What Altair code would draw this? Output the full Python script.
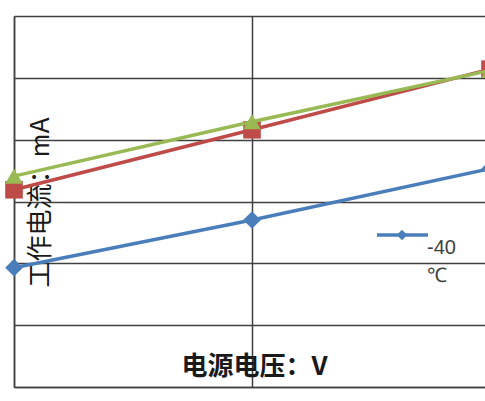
import altair as alt
import pandas as pd

# Supply voltage (V) and operating current (mA) for three temperatures
voltage = [4.5, 5.0, 5.5]
series_names = ["-40℃", "25℃", "85℃"]
current_m40 = [19.3, 27.0, 35.3]
current_25 = [31.9, 41.6, 51.4]
current_85 = [34.1, 42.9, 51.2]
series_values = [current_m40, current_25, current_85]

colors = ["#4A7EBB", "#BE4B48", "#98B954"]
shapes = ["diamond", "square", "triangle-up"]
y_ticks = [0, 10, 20, 30, 40, 50, 60]

PLOT_W, PLOT_H = 471, 371
GRID = "#404040"

x_enc = alt.X(
    "voltage:Q",
    scale=alt.Scale(domain=[4.5, 4.5 + PLOT_W / 476], nice=False, zero=False),
    axis=alt.Axis(
        values=[4.5, 5.0], grid=True, labels=False, ticks=False,
        domain=True, domainColor=GRID, domainWidth=1.5,
        gridColor=GRID, gridWidth=1.5, gridOpacity=1,
        title="电源电压：V", titleX=240, titleY=-21,
        titleAlign="center", titleBaseline="middle",
        titleFont="Noto Sans CJK SC", titleFontSize=26,
        titleFontWeight="bold", titleColor="#1a1a1a",
    ),
)
y_enc = alt.Y(
    "current:Q",
    scale=alt.Scale(domain=[0, 60], nice=False),
    axis=alt.Axis(
        values=y_ticks, grid=True, labels=False, ticks=False,
        domain=True, domainColor=GRID, domainWidth=1.5,
        gridColor=GRID, gridWidth=1.5, gridOpacity=1,
        title="工作电流：mA", titleAngle=270, titleX=26, titleY=186,
        titleAlign="center", titleBaseline="middle",
        titleFont="Noto Sans CJK SC", titleFontSize=26,
        titleFontWeight="normal", titleColor="#1a1a1a",
    ),
)

layers = []
for name, vals, col, shp in zip(series_names, series_values, colors, shapes):
    df = pd.DataFrame({"voltage": voltage, "current": vals, "series": name})
    base = alt.Chart(df).encode(x=x_enc, y=y_enc)
    layers.append(base.mark_line(color=col, strokeWidth=3.5))
    layers.append(
        base.mark_point(filled=True, opacity=1, color=col, shape=shp, size=310)
    )

# Legend entry for the first series
legend_df = pd.DataFrame({"label": ["-40\n℃"]})
legend_line = alt.Chart(legend_df).mark_rule(color=colors[0], strokeWidth=3.5).encode(
    x=alt.value(363), x2=alt.value(414), y=alt.value(219)
)
legend_sym = alt.Chart(legend_df).mark_point(
    filled=True, opacity=1, color=colors[0], shape="diamond", size=110
).encode(x=alt.value(388), y=alt.value(219))
legend_txt = alt.Chart(legend_df).mark_text(
    align="left", baseline="alphabetic", lineBreak="\n", lineHeight=28,
    fontSize=20, font="Liberation Sans", color="#404040"
).encode(x=alt.value(413), y=alt.value(238), text="label:N")

chart = (
    alt.layer(*layers, legend_line, legend_sym, legend_txt)
    .properties(
        width=PLOT_W, height=PLOT_H,
        autosize=alt.AutoSizeParams(type="none"),
        padding={"left": 14, "top": 16, "right": 0, "bottom": 14},
        background="white",
    )
    .configure_view(stroke=None)
)

chart.save("out.html", embed_options={"renderer": "svg", "actions": False})
